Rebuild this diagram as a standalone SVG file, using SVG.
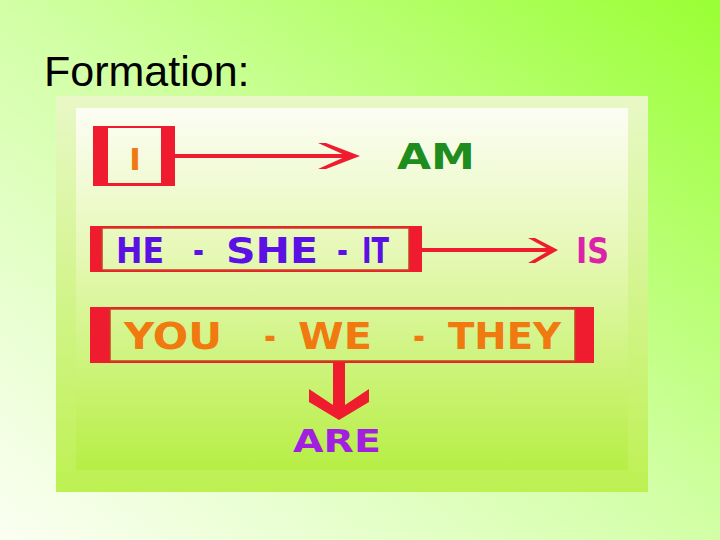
<svg xmlns="http://www.w3.org/2000/svg" width="720" height="540" viewBox="0 0 720 540">
<defs>
<linearGradient id="bg" x1="1" y1="0" x2="0" y2="1">
<stop offset="0" stop-color="#99ff33"/>
<stop offset="0.5" stop-color="#d2ffa6"/>
<stop offset="1" stop-color="#fbfff3"/>
</linearGradient>
<linearGradient id="frame" gradientUnits="userSpaceOnUse" x1="0" y1="96" x2="0" y2="492">
<stop offset="0" stop-color="#e8f8c6"/>
<stop offset="1" stop-color="#bdf152"/>
</linearGradient>
<linearGradient id="panel" gradientUnits="userSpaceOnUse" x1="0" y1="108" x2="0" y2="470">
<stop offset="0" stop-color="#fcfdf4"/>
<stop offset="0.4" stop-color="#e6f8b6"/>
<stop offset="1" stop-color="#b6ef45"/>
</linearGradient>
</defs>
<style>
.red{fill:#ee1c2e}
.inner{fill:url(#panel);stroke:#c8401e;stroke-width:1.5}
.lbl{font-family:"DejaVu Sans","Liberation Sans",sans-serif;font-weight:bold}
.line{stroke:#ee1c2e;stroke-width:4;fill:none}
</style>
<rect x="0" y="0" width="720" height="540" fill="url(#bg)"/>
<text x="44" y="86" font-family="Liberation Sans, Arial, sans-serif" font-size="43" fill="#000">Formation:</text>
<rect x="56" y="96" width="592" height="396" fill="url(#frame)"/>
<rect x="76" y="108" width="552" height="362" fill="url(#panel)"/>

<g id="connectors">
<line class="line" x1="175" y1="156" x2="350" y2="156"/>
<polygon class="red" points="318,143 326,143 360,156 326,169 318,169 347,156"/>
<line class="line" x1="422" y1="250" x2="550" y2="250"/>
<polygon class="red" points="528,238 535,238 558,250 535,263 528,263 550,250"/>
<rect class="red" x="333" y="362" width="12" height="44"/>
<polygon class="red" points="309,389 333,405 345,405 369,389 369,402 339,420 309,402"/>
</g>

<g id="node-i">
<rect class="red" x="93" y="126" width="82" height="60"/>
<rect x="108" y="128" width="53" height="55" fill="url(#panel)"/>
<text class="lbl" x="135" y="170" font-size="31" fill="#f07a12" text-anchor="middle">I</text>
</g>
<g id="node-am">
<text class="lbl" x="397" y="169" font-size="36" fill="#1e8c1e" textLength="78" lengthAdjust="spacingAndGlyphs">AM</text>
</g>

<g id="node-heshe">
<rect class="red" x="90" y="226" width="332" height="46"/>
<rect class="inner" x="102" y="228" width="307" height="42"/>
<text class="lbl" y="263" font-size="36" fill="#5b10e4"><tspan x="116" textLength="48" lengthAdjust="spacingAndGlyphs">HE</tspan> <tspan x="193" textLength="11" lengthAdjust="spacingAndGlyphs">-</tspan> <tspan x="226" textLength="92" lengthAdjust="spacingAndGlyphs">SHE</tspan> <tspan x="337" textLength="11" lengthAdjust="spacingAndGlyphs">-</tspan> <tspan x="362" textLength="27" lengthAdjust="spacingAndGlyphs">IT</tspan></text>
</g>
<g id="node-is">
<text class="lbl" x="576" y="263" font-size="36" fill="#dd22aa" textLength="33" lengthAdjust="spacingAndGlyphs">IS</text>
</g>

<g id="node-youwethey">
<rect class="red" x="90" y="307" width="504" height="56"/>
<rect class="inner" x="110" y="309" width="465" height="52"/>
<text class="lbl" y="349" font-size="37" fill="#f07a10"><tspan x="124" textLength="98" lengthAdjust="spacingAndGlyphs">YOU</tspan> <tspan x="264" textLength="12" lengthAdjust="spacingAndGlyphs">-</tspan> <tspan x="298" textLength="74" lengthAdjust="spacingAndGlyphs">WE</tspan> <tspan x="413" textLength="12" lengthAdjust="spacingAndGlyphs">-</tspan> <tspan x="448" textLength="113" lengthAdjust="spacingAndGlyphs">THEY</tspan></text>
</g>
<g id="node-are">
<text class="lbl" x="293" y="452" font-size="32" fill="#a21fe0" textLength="88" lengthAdjust="spacingAndGlyphs">ARE</text>
</g>
</svg>
